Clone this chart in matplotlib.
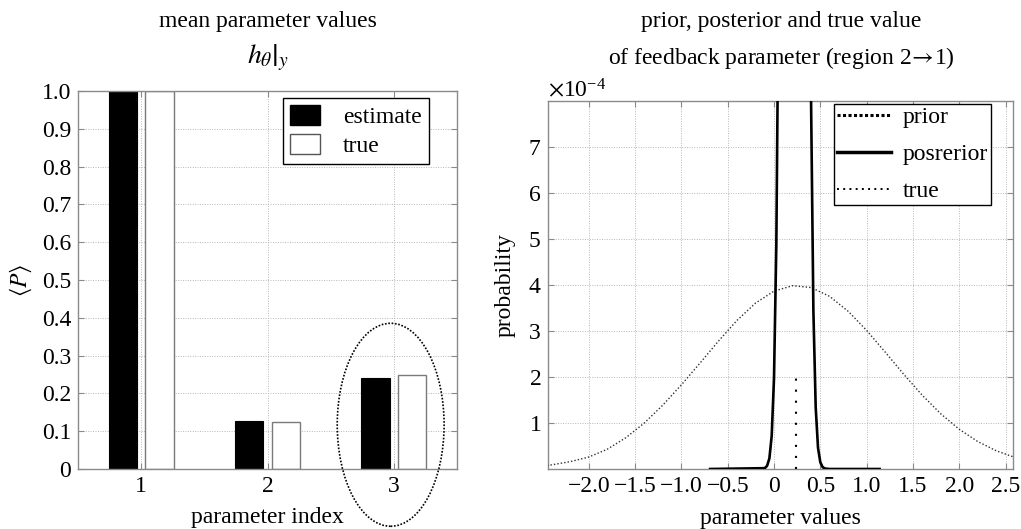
import numpy as np
import matplotlib
matplotlib.use('Agg')
import matplotlib.pyplot as plt
from matplotlib.patches import Ellipse, Patch
from matplotlib.lines import Line2D
from matplotlib.ticker import ScalarFormatter, FixedLocator, FixedFormatter

plt.rcParams['font.family'] = ['Liberation Serif', 'DejaVu Serif']
plt.rcParams['mathtext.fontset'] = 'stix'
plt.rcParams['axes.unicode_minus'] = True

# ---------------- data: left panel ----------------
param_index = [1, 2, 3]
estimate = [1.0, 0.127, 0.242]
true_vals = [1.0, 0.125, 0.25]
left_yticks = [0, 0.1, 0.2, 0.3, 0.4, 0.5, 0.6, 0.7, 0.8, 0.9, 1.0]
left_yticklabels = ['0', '0.1', '0.2', '0.3', '0.4', '0.5', '0.6', '0.7', '0.8', '0.9', '1.0']

# ---------------- data: right panel (probability in units of 1e-4) ----------------
prior_x = [-2.6, -2.4, -2.2, -2.0, -1.8, -1.6, -1.4, -1.2, -1.0, -0.8, -0.6, -0.4, -0.2,
           0.0, 0.2, 0.4, 0.6, 0.8, 1.0, 1.2, 1.4, 1.6, 1.8, 2.0, 2.2, 2.4, 2.6]
prior_y = [0.05, 0.09, 0.16, 0.26, 0.43, 0.68, 1.0, 1.39, 1.83, 2.30, 2.78, 3.23, 3.606,
           3.867, 3.985, 3.945, 3.753, 3.430, 3.012, 2.542, 2.060, 1.604, 1.200, 0.863, 0.596, 0.395, 0.252]
post_x = [-0.69, -0.1, -0.075, -0.05, -0.025, 0.0, 0.025, 0.05, 0.075, 0.1, 0.125, 0.15, 0.175,
          0.2, 0.225, 0.25, 0.275, 0.3, 0.325, 0.35, 0.375, 0.4, 0.425, 0.45, 0.475, 0.5,
          0.525, 0.55, 0.6, 1.14]
post_y = [0.0, 0.018, 0.068, 0.23, 0.72, 1.98, 4.89, 10.8, 21.6, 38.4, 61.4, 88.0, 113.0,
          130.0, 134.7, 124.8, 103.7, 77.3, 51.6, 30.9, 16.6, 8.0, 3.45, 1.34, 0.46, 0.145,
          0.04, 0.01, 0.0, 0.0]
true_param = 0.24
true_height = 2.0
unit = 1e-4
right_xticks = [-2.0, -1.5, -1.0, -0.5, 0.0, 0.5, 1.0, 1.5, 2.0, 2.5]
right_xticklabels = ['\u22122.0', '\u22121.5', '\u22121.0', '\u22120.5', '0', '0.5', '1.0', '1.5', '2.0', '2.5']
right_yticks = [1, 2, 3, 4, 5, 6, 7]

FS = 17
spine_c = '#8a8a8a'
grid_kw = dict(color='#b8b8b8', linestyle=(0, (1, 1.5)), linewidth=0.7)

W, H = 1021, 529
fig = plt.figure(figsize=(W / 100, H / 100), dpi=100)

def style_axes(ax):
    for s in ax.spines.values():
        s.set_color(spine_c)
        s.set_linewidth(1.0)
    ax.tick_params(direction='in', length=4, width=0.8, color=spine_c,
                   top=True, right=True, labelsize=FS, pad=5)
    ax.grid(True, **grid_kw)
    ax.set_axisbelow(True)

# ---------------- left panel ----------------
ax1 = fig.add_axes([78 / W, (H - 469) / H, (457 - 78) / W, (469 - 91) / H])
x = np.array(param_index, dtype=float)
ax1.bar(x - 0.145, estimate, 0.225, color='black', edgecolor='black', linewidth=0.8, zorder=2)
ax1.bar(x + 0.145, true_vals, 0.225, color='white', edgecolor='#7a7a7a', linewidth=1.0, zorder=2)
ax1.set_xlim(0.5, 3.5)
ax1.set_ylim(0, 1.0)
ax1.set_xticks(param_index)
ax1.set_xticklabels([str(p) for p in param_index])
ax1.set_yticks(left_yticks)
ax1.set_yticklabels(left_yticklabels)
style_axes(ax1)
ax1.set_xlabel('parameter index', fontsize=FS)
ax1.xaxis.set_label_coords(0.5, -0.1)
ax1.set_ylabel(r'$\langle P\rangle$', fontsize=FS)
ax1.yaxis.set_label_coords(-0.115, 0.5)
ell = Ellipse((2.975, 0.117), 0.846, 0.537, fill=False, edgecolor='black',
              linestyle=(0, (1, 1)), linewidth=1.2, clip_on=False, zorder=5)
ax1.add_patch(ell)
leg1 = ax1.legend(handles=[Patch(facecolor='black', edgecolor='black'),
                           Patch(facecolor='white', edgecolor='#555555')],
                  labels=['estimate', 'true'], loc='upper right',
                  bbox_to_anchor=(0.926, 0.981), borderaxespad=0, fontsize=FS,
                  handlelength=1.25, handleheight=0.9, handletextpad=1.0,
                  labelspacing=0.25, borderpad=0.3, fancybox=False, framealpha=1)
leg1.get_frame().set_edgecolor('black')
leg1.get_frame().set_linewidth(1.0)

fig.text(268 / W, 1 - 21 / H, 'mean parameter values', ha='center', va='center', fontsize=FS)
fig.text(268 / W, 1 - 58 / H, r'$\left.h_{\theta}\right|_{y}$', ha='center', va='center', fontsize=FS + 3)

# ---------------- right panel ----------------
ax2 = fig.add_axes([548 / W, (H - 469) / H, (1013 - 548) / W, (469 - 101) / H])
ax2.plot(np.array(prior_x), np.array(prior_y) * unit, color='#303030',
         linestyle=(0, (1, 1.5)), linewidth=1.0, zorder=3)
ax2.plot(np.array(post_x), np.array(post_y) * unit, color='black', linewidth=1.9, zorder=4)
ax2.plot([true_param, true_param], [0, true_height * unit], color='black',
         linestyle=(0, (1, 4.3)), linewidth=1.5, zorder=4)
ax2.set_xlim(-2.44, 2.58)
ax2.set_ylim(0, 8 * unit)
ax2.xaxis.set_major_locator(FixedLocator(right_xticks))
ax2.xaxis.set_major_formatter(FixedFormatter(right_xticklabels))
ax2.set_yticks([t * unit for t in right_yticks])
fmt = ScalarFormatter(useMathText=True)
fmt.set_powerlimits((-3, 3))
ax2.yaxis.set_major_formatter(fmt)
style_axes(ax2)
ax2.yaxis.get_offset_text().set_fontsize(FS)
ax2.set_xlabel('parameter values', fontsize=FS)
ax2.xaxis.set_label_coords(0.5, -0.105)
ax2.set_ylabel('probability', fontsize=FS)
ax2.yaxis.set_label_coords(-0.07, 0.5)
handles2 = [Line2D([], [], color='black', linestyle=(0, (1, 0.8)), linewidth=2.2),
            Line2D([], [], color='black', linestyle='-', linewidth=2.5),
            Line2D([], [], color='black', linestyle=(0, (1, 2.2)), linewidth=1.4)]
leg2 = ax2.legend(handles=handles2, labels=['prior', 'posrerior', 'true'], loc='upper right',
                  bbox_to_anchor=(0.9527, 0.992), borderaxespad=0, fontsize=FS,
                  handlelength=2.3, handletextpad=0.5, labelspacing=0.65, borderpad=0.12,
                  fancybox=False, framealpha=1)
leg2.get_frame().set_edgecolor('black')
leg2.get_frame().set_linewidth(1.0)

fig.text(781 / W, 1 - 21 / H, 'prior, posterior and true value', ha='center', va='center', fontsize=FS)
fig.text(781 / W, 1 - 58 / H, r'of feedback parameter (region 2$\!\rightarrow\!$1)',
         ha='center', va='center', fontsize=FS)

fig.savefig('out.png', dpi=100)
